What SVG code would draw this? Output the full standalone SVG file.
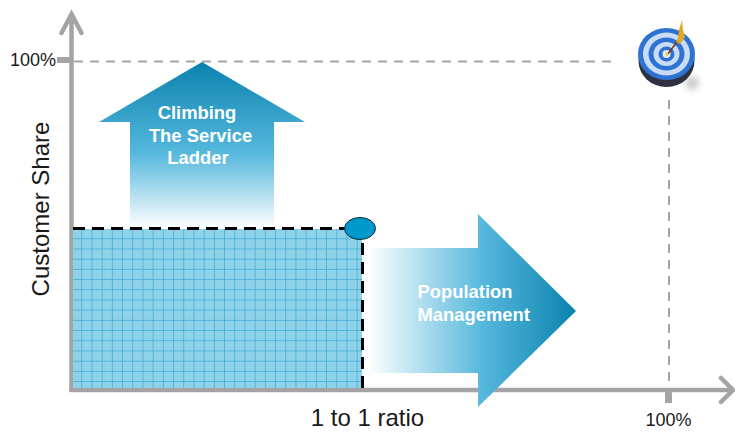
<svg xmlns="http://www.w3.org/2000/svg" width="735" height="432" viewBox="0 0 735 432">
<style>
.axis{fill:none;stroke:#a5a3a6;stroke-width:4.500;stroke-linecap:round;stroke-linejoin:miter}
.guide{fill:none;stroke:#a5a3a6;stroke-width:2;stroke-dasharray:9 7}
.tick{fill:#a5a3a6}
.edge{fill:none;stroke:#000;stroke-width:3;stroke-dasharray:12 7}
.lbl{font-family:"Liberation Sans",Arial,sans-serif;fill:#1a1a1a}
.w{font-family:"Liberation Sans",Arial,sans-serif;font-weight:700;font-size:18.400px;fill:#fff}
</style>
<defs>
<linearGradient id="up" x1="0" y1="62" x2="0" y2="228" gradientUnits="userSpaceOnUse">
<stop offset="0" stop-color="#0a82ae"/><stop offset=".55" stop-color="#56b8dd"/><stop offset="1" stop-color="#fff"/>
</linearGradient>
<linearGradient id="right" x1="368" y1="0" x2="576" y2="0" gradientUnits="userSpaceOnUse">
<stop offset="0" stop-color="#fff"/><stop offset=".55" stop-color="#56b8dd"/><stop offset="1" stop-color="#0a82ae"/>
</linearGradient>
<pattern id="dots" x="72" y="229" width="2" height="2" patternUnits="userSpaceOnUse">
<rect width="2" height="2" fill="#84cde6"/><rect width="1" height="1" fill="#9ad6ea"/><rect x="1" y="1" width="1" height="1" fill="#9ad6ea"/>
</pattern>
<pattern id="grid" x="72" y="229" width="10.200" height="10.200" patternUnits="userSpaceOnUse">
<path d="M10 0V10.200M0 10H10.200" stroke="#38a9d4" stroke-width="1" fill="none"/>
</pattern>
<filter id="soft" x="-40%" y="-40%" width="180%" height="180%"><feGaussianBlur stdDeviation="3"/></filter>
<filter id="tiny" x="-10%" y="-10%" width="120%" height="120%"><feGaussianBlur stdDeviation=".6"/></filter>
</defs>

<g id="connectors">
<path class="guide" d="M74 61.500H615"/>
<path class="guide" d="M669 100V386"/>
<path class="axis" d="M71.500 388V14M61.500 33L71.500 14L81.500 33"/>
<path class="axis" d="M71 390H733M721 378L733 390L721 402"/>
<rect class="tick" x="57" y="57" width="14" height="6"/>
<rect class="tick" x="665" y="390" width="7" height="13"/>
</g>

<g id="climb-arrow">
<path d="M202 62L305 122H274V228H130V122H99Z" fill="url(#up)"/>
<text class="w" x="197" y="119" text-anchor="middle">Climbing</text>
<text class="w" x="200.500" y="141.500" text-anchor="middle">The Service</text>
<text class="w" x="198" y="164" text-anchor="middle">Ladder</text>
</g>

<g id="population-arrow">
<path d="M368 248H478V214L576 311L478 407V373H368Z" fill="url(#right)"/>
<text class="w" x="417.500" y="298">Population</text>
<text class="w" x="417.500" y="321">Management</text>
</g>

<g id="share-box">
<rect x="73" y="229" width="289" height="159" fill="url(#dots)"/>
<rect x="73" y="229" width="289" height="159" fill="url(#grid)"/>
<path class="edge" d="M73 228.500H362.500V388"/>
<ellipse cx="360" cy="228.500" rx="15.500" ry="11" fill="#0099cc" stroke="#0b2a3a" stroke-width="1"/>
</g>

<g id="target">
<ellipse cx="692" cy="83" rx="7" ry="7" fill="#ccc" filter="url(#soft)"/>
<ellipse cx="666.500" cy="61" rx="28" ry="26" fill="#2e3340" filter="url(#tiny)"/>
<ellipse cx="666.500" cy="54" rx="28.500" ry="26" fill="#2d72d2" filter="url(#tiny)"/>
<ellipse cx="666.500" cy="54" rx="23.500" ry="21.500" fill="#c9dcf6" filter="url(#tiny)"/>
<ellipse cx="666.500" cy="54" rx="18" ry="16.500" fill="#2d72d2" filter="url(#tiny)"/>
<ellipse cx="666.500" cy="54" rx="13" ry="12" fill="#c9dcf6" filter="url(#tiny)"/>
<ellipse cx="666.500" cy="54" rx="8" ry="7.500" fill="#2d72d2" filter="url(#tiny)"/>
<ellipse cx="666.500" cy="54" rx="4" ry="4" fill="#e3ecf9" filter="url(#tiny)"/>
<path d="M667 55L680 38" stroke="#8a2f14" stroke-width="1.500" fill="none"/>
<path d="M678 38L679 30L682 20L683 30L685 37L680 44L676 42Z" fill="#e0a820" filter="url(#tiny)"/>
<circle cx="667" cy="54" r="1.500" fill="#e8d020"/>
</g>

<g id="labels">
<text class="lbl" x="10" y="66" font-size="18">100%</text>
<text class="lbl" x="0" y="0" font-size="24" text-anchor="middle" transform="translate(49 209) rotate(-90)">Customer Share</text>
<text class="lbl" x="367.500" y="426" font-size="24" text-anchor="middle">1 to 1 ratio</text>
<text class="lbl" x="668.500" y="426" font-size="18" text-anchor="middle">100%</text>
</g>
</svg>
